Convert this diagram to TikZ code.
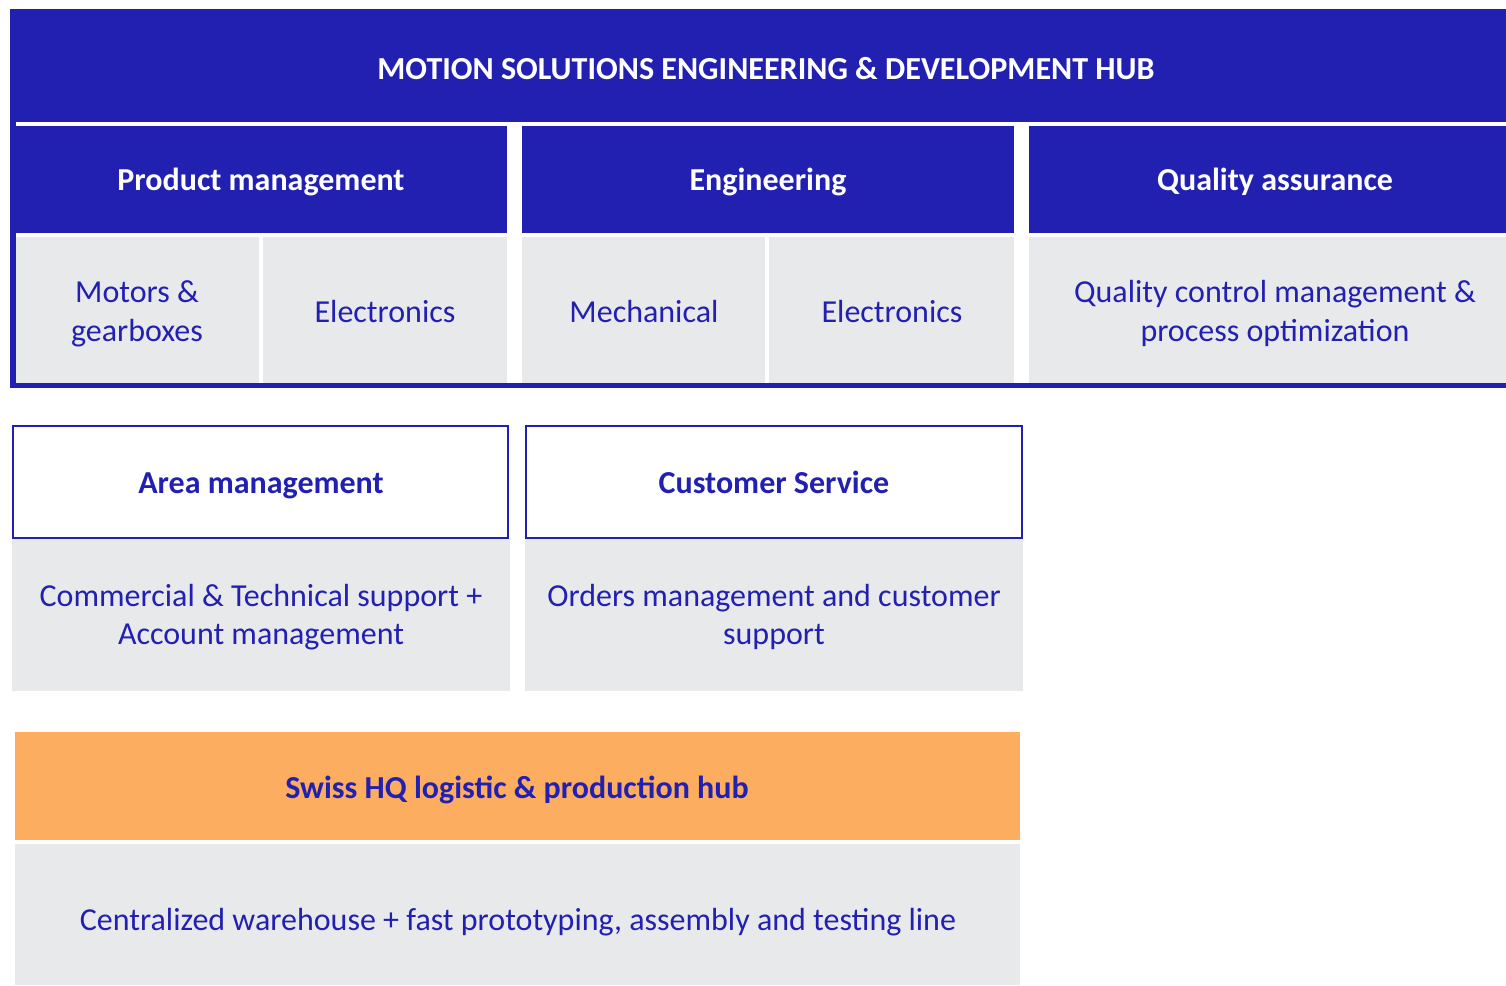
\documentclass[tikz,border=0pt]{standalone}
\usepackage{fontspec}
\setmainfont{Carlito}
\definecolor{hubblue}{HTML}{2220B1}
\definecolor{cellgray}{HTML}{E8E9EB}
\definecolor{hqorange}{HTML}{FDAD5F}
\begin{document}
\begin{tikzpicture}[x=1pt,y=-1pt,
  blk/.style={inner sep=0pt, outer sep=0pt, anchor=north west, draw=none},
  bluebox/.style={blk, fill=hubblue},
  graybox/.style={blk, fill=cellgray},
  framebox/.style={blk, fill=white, draw=hubblue, line width=2pt},
  headtxt/.style={text=white, font=\fontsize{32}{38.5}\selectfont\bfseries, align=center, inner sep=0pt},
  celltxt/.style={text=hubblue, font=\fontsize{32}{38.5}\selectfont, align=center, inner sep=0pt},
  bluehead/.style={text=hubblue, font=\fontsize{32}{38.5}\selectfont\bfseries, align=center, inner sep=0pt},
]
\useasboundingbox (0,0) rectangle (1506,985);
\fill[white] (0,0) rectangle (1506,985);

% top hub
\node[bluebox, minimum width=1496pt, minimum height=379pt] (hub) at (10,9) {};
\node[blk, fill=white, minimum width=1490pt, minimum height=261pt] (hubinner) at (16,122) {};
\node[headtxt, font=\fontsize{32.1}{38.5}\selectfont\bfseries] (hubtitle) at (766,69) {MOTION SOLUTIONS ENGINEERING \& DEVELOPMENT HUB};

\node[bluebox, minimum width=491pt, minimum height=107pt] (pmh) at (16,126) {};
\node[bluebox, minimum width=492pt, minimum height=107pt] (engh) at (522,126) {};
\node[bluebox, minimum width=477pt, minimum height=107pt] (qah) at (1029,126) {};
\node[headtxt] (pmt) at (261,182) {Product management};
\node[headtxt] (engt) at (768,182) {Engineering};
\node[headtxt] (qat) at (1275,182) {Quality assurance};

\node[graybox, minimum width=243pt, minimum height=146pt] (motc) at (16,237) {};
\node[graybox, minimum width=244pt, minimum height=146pt] (el1c) at (263,237) {};
\node[graybox, minimum width=243pt, minimum height=146pt] (mecc) at (522,237) {};
\node[graybox, minimum width=245pt, minimum height=146pt] (el2c) at (769,237) {};
\node[graybox, minimum width=477pt, minimum height=146pt] (qac) at (1029,237) {};
\node[celltxt] (mott) at (137,314) {Motors \&\\gearboxes};
\node[celltxt] (el1t) at (385,312) {Electronics};
\node[celltxt] (mect) at (644,312) {Mechanical};
\node[celltxt] (el2t) at (892,312) {Electronics};
\node[celltxt] (qact) at (1275,313.5) {Quality control management \&\\process optimization};

% middle section
\node[graybox, minimum width=498pt, minimum height=152pt] (amc) at (12,539) {};
\node[graybox, minimum width=498pt, minimum height=152pt] (csc) at (525,539) {};
\node[framebox, minimum width=495pt, minimum height=112pt] (amh) at (13,426) {};
\node[framebox, minimum width=496pt, minimum height=112pt] (csh) at (526,426) {};
\node[bluehead] (amt) at (261,486) {Area management};
\node[bluehead] (cst) at (774,482) {Customer Service};
\node[celltxt] (amct) at (261,617) {Commercial \& Technical support +\\Account management};
\node[celltxt] (csct) at (774,617) {Orders management and customer\\support};

% bottom section
\node[blk, fill=hqorange, minimum width=1005pt, minimum height=108pt] (hqh) at (15,732) {};
\node[graybox, minimum width=1005pt, minimum height=141pt] (hqc) at (15,844) {};
\node[bluehead] (hqt) at (517,790) {Swiss HQ logistic \& production hub};
\node[celltxt] (hqct) at (518,922) {Centralized warehouse + fast prototyping, assembly and testing line};
\end{tikzpicture}
\end{document}
